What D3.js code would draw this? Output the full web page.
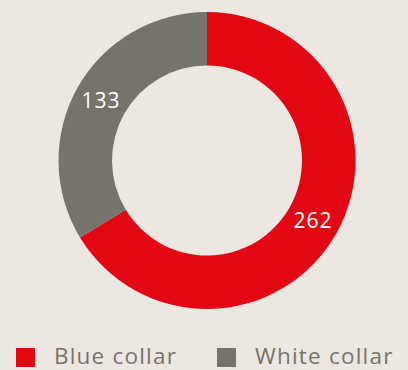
<!DOCTYPE html>
<html><head><meta charset="utf-8">
<script src="https://cdn.jsdelivr.net/npm/d3@7"></script>
<style>html,body{margin:0;padding:0;background:#ece8e1;}svg{display:block;}</style>
</head><body>
<svg id="c" width="408" height="370"></svg>
<script>
const categories = ["Blue collar", "White collar"];
const values = [262, 133];
const colors = ["#e30613", "#76736a"];

const svg = d3.select("#c");
svg.append("rect").attr("width",408).attr("height",370).attr("fill","#ece8e1");
const cx = 207, cy = 160.5, outerR = 148.5, innerR = 95;
const pie = d3.pie().sort(null).value(d => d.v);
const arcs = pie(categories.map((c,i)=>({c, v: values[i]})));
const arc = d3.arc().innerRadius(innerR).outerRadius(outerR);
const g = svg.append("g").attr("transform", `translate(${cx},${cy})`);
g.selectAll("path").data(arcs).join("path").attr("d", arc).attr("fill", (d,i)=>colors[i]);
const labelArc = d3.arc().innerRadius((innerR+outerR)/2).outerRadius((innerR+outerR)/2);
g.selectAll("text").data(arcs).join("text")
  .attr("transform", d => `translate(${labelArc.centroid(d)})`)
  .attr("text-anchor","middle").attr("dy","0.35em")
  .attr("fill","#fff").attr("font-family","Open Sans, sans-serif").attr("font-size",21)
  .attr("letter-spacing", 1)
  .text(d => d.data.v);

const legend = svg.append("g");
const lx = [16, 217];
categories.forEach((c,i)=>{
  legend.append("rect").attr("x", lx[i]).attr("y", 348).attr("width",19).attr("height",19).attr("fill", colors[i]);
  legend.append("text").attr("x", lx[i]+38).attr("y", 364)
    .attr("fill","#76736a").attr("font-family","Open Sans, sans-serif").attr("font-size",22.5)
    .attr("letter-spacing", 1.2)
    .text(c);
});
</script>
</body></html>
